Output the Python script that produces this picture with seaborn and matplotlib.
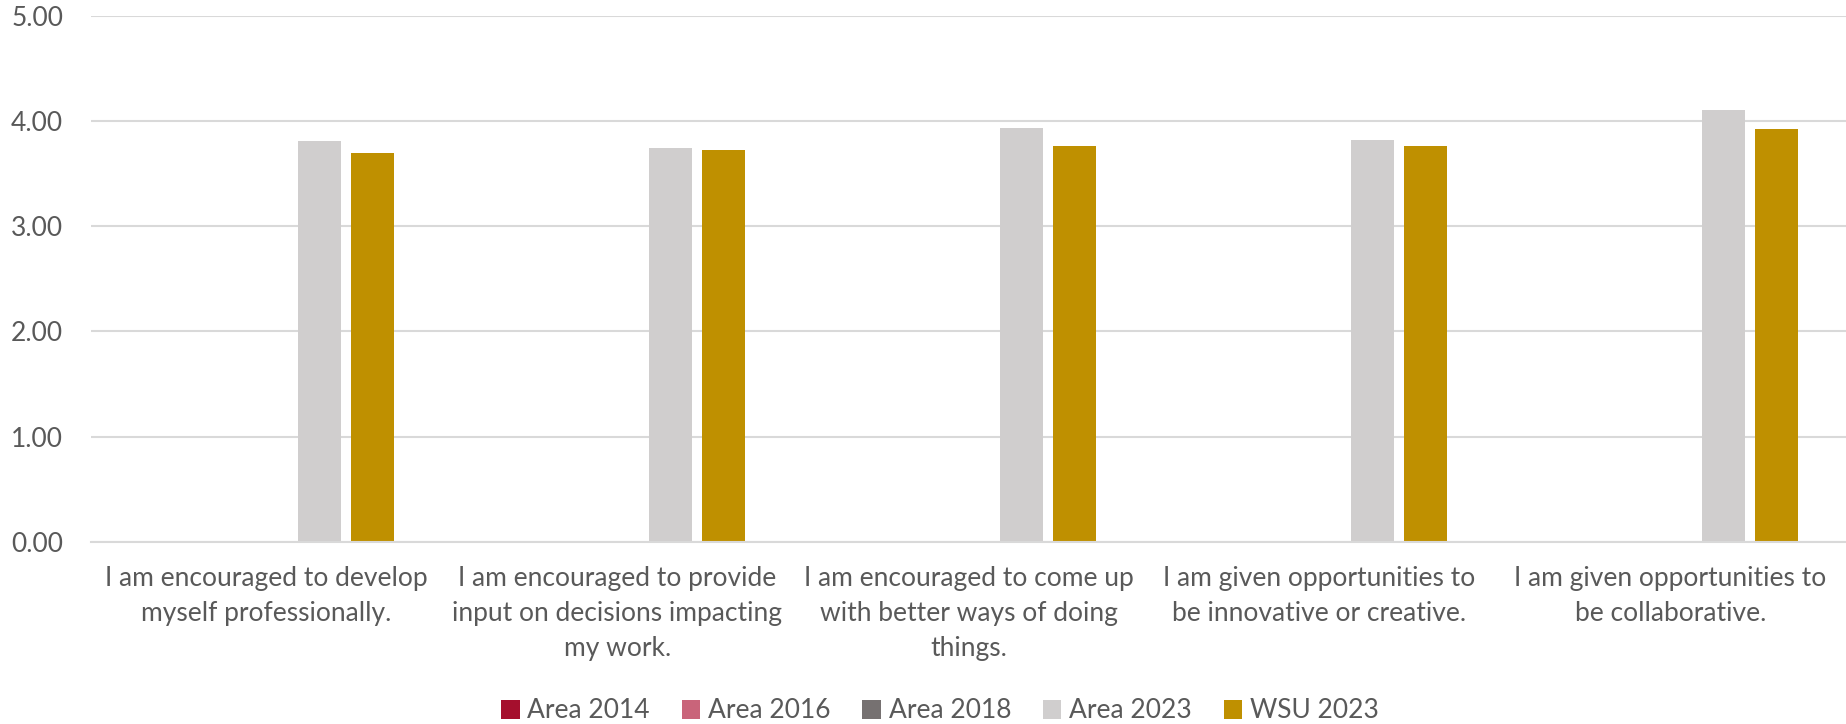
import numpy as np
import pandas as pd
import matplotlib
matplotlib.use("Agg")
import matplotlib.pyplot as plt
from matplotlib.patches import Patch
import seaborn as sns

categories = [
    "I am encouraged to develop\nmyself professionally.",
    "I am encouraged to provide\ninput on decisions impacting\nmy work.",
    "I am encouraged to come up\nwith better ways of doing\nthings.",
    "I am given opportunities to\nbe innovative or creative.",
    "I am given opportunities to\nbe collaborative.",
]
series_names = ["Area 2014", "Area 2016", "Area 2018", "Area 2023", "WSU 2023"]
area_2014 = [np.nan] * 5
area_2016 = [np.nan] * 5
area_2018 = [np.nan] * 5
area_2023 = [3.81, 3.74, 3.93, 3.82, 4.10]
wsu_2023 = [3.70, 3.72, 3.76, 3.76, 3.92]
colors = ["#A50F2D", "#C9647A", "#767171", "#D0CECE", "#BF9000"]
yticks = [0, 1, 2, 3, 4, 5]

values = [area_2014, area_2016, area_2018, area_2023, wsu_2023]
rows = []
for name, vals in zip(series_names, values):
    for c, v in zip(categories, vals):
        rows.append({"category": c, "series": name, "value": v})
df = pd.DataFrame(rows)

sns.set_theme(style="white")
plt.rcParams["font.family"] = ["Lato", "DejaVu Sans"]

fig = plt.figure(figsize=(18.46, 7.24), dpi=100)
ax = fig.add_axes([91 / 1846, 1 - 542 / 724, (1846 - 91) / 1846, (542 - 15.7) / 724])

sns.barplot(data=df, x="category", y="value", hue="series",
            hue_order=series_names, order=categories,
            palette=dict(zip(series_names, colors)), saturation=1,
            width=0.755, gap=0.2, errorbar=None, ax=ax, legend=False,
            edgecolor="none", linewidth=0)

ax.set_ylim(0, 5)
ax.set_xlim(-0.5, 4.5)
ax.set_yticks(yticks)
ax.set_yticklabels([f"{t:.2f}" for t in yticks])
ax.yaxis.grid(True, color="#D9D9D9", linewidth=1.5)
ax.set_axisbelow(True)
for s in ["top", "right", "left"]:
    ax.spines[s].set_visible(False)
ax.spines["bottom"].set_color("#D9D9D9")
ax.spines["bottom"].set_linewidth(1.5)
ax.set_xlabel("")
ax.set_ylabel("")
ax.tick_params(axis="both", length=0, colors="#595959", labelsize=19)
ax.tick_params(axis="y", pad=20)
ax.tick_params(axis="x", pad=17)
for lbl in ax.get_xticklabels():
    lbl.set_linespacing(1.5)

handles = [Patch(facecolor=c, edgecolor="none") for c in colors]
fig.legend(handles, series_names, loc="center", bbox_to_anchor=(940 / 1846, 1 - 711 / 724),
           ncol=5, frameon=False, fontsize=19, labelcolor="#595959",
           handlelength=0.7, handleheight=0.7, handletextpad=0.3, columnspacing=1.2)

fig.savefig("out.png", dpi=100, facecolor="white")
